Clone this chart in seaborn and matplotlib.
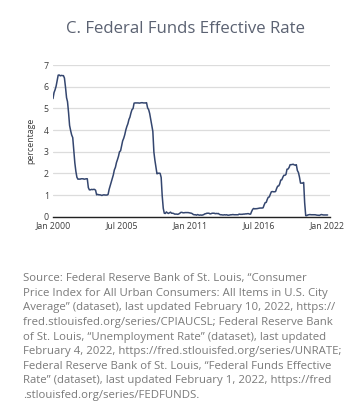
import matplotlib
matplotlib.use("Agg")
import matplotlib.pyplot as plt
import seaborn as sns
import pandas as pd

# Monthly effective federal funds rate, Jan 2000 - Jan 2022 (percent)
rate = [
    5.45, 5.73, 5.85, 6.02, 6.27, 6.53, 6.54, 6.50, 6.52, 6.51, 6.51, 6.40,
    5.98, 5.49, 5.31, 4.80, 4.21, 3.97, 3.77, 3.65, 3.07, 2.49, 2.09, 1.82,
    1.73, 1.74, 1.73, 1.75, 1.75, 1.75, 1.73, 1.74, 1.75, 1.75, 1.34, 1.24,
    1.24, 1.26, 1.25, 1.26, 1.26, 1.22, 1.01, 1.03, 1.01, 1.01, 1.00, 0.98,
    1.00, 1.01, 1.00, 1.00, 1.00, 1.03, 1.26, 1.43, 1.61, 1.76, 1.93, 2.16,
    2.28, 2.50, 2.63, 2.79, 3.00, 3.04, 3.26, 3.50, 3.62, 3.78, 4.00, 4.16,
    4.29, 4.49, 4.59, 4.79, 4.94, 4.99, 5.24, 5.25, 5.25, 5.25, 5.25, 5.24,
    5.25, 5.26, 5.26, 5.25, 5.25, 5.25, 5.26, 5.02, 4.94, 4.76, 4.49, 4.24,
    3.94, 2.98, 2.61, 2.28, 1.98, 2.00, 2.01, 2.00, 1.81, 0.97, 0.39, 0.16,
    0.15, 0.22, 0.18, 0.15, 0.18, 0.21, 0.16, 0.16, 0.15, 0.12, 0.12, 0.12,
    0.11, 0.13, 0.16, 0.20, 0.20, 0.18, 0.18, 0.19, 0.19, 0.19, 0.19, 0.18,
    0.17, 0.16, 0.14, 0.10, 0.09, 0.09, 0.07, 0.10, 0.08, 0.07, 0.08, 0.07,
    0.08, 0.10, 0.13, 0.14, 0.16, 0.16, 0.16, 0.13, 0.14, 0.16, 0.16, 0.16,
    0.14, 0.15, 0.14, 0.15, 0.11, 0.09, 0.09, 0.08, 0.08, 0.09, 0.08, 0.09,
    0.07, 0.07, 0.08, 0.09, 0.09, 0.10, 0.09, 0.09, 0.09, 0.09, 0.09, 0.12,
    0.11, 0.11, 0.11, 0.12, 0.12, 0.13, 0.13, 0.14, 0.14, 0.12, 0.12, 0.24,
    0.34, 0.38, 0.36, 0.37, 0.37, 0.38, 0.39, 0.40, 0.40, 0.40, 0.41, 0.54,
    0.65, 0.66, 0.79, 0.90, 0.91, 1.04, 1.15, 1.16, 1.15, 1.15, 1.16, 1.30,
    1.41, 1.42, 1.51, 1.69, 1.70, 1.82, 1.91, 1.91, 1.95, 2.19, 2.20, 2.27,
    2.40, 2.40, 2.41, 2.42, 2.39, 2.38, 2.40, 2.13, 2.04, 1.83, 1.55, 1.55,
    1.55, 1.58, 0.65, 0.05, 0.05, 0.08, 0.09, 0.10, 0.09, 0.09, 0.09, 0.09,
    0.09, 0.08, 0.07, 0.07, 0.06, 0.08, 0.10, 0.09, 0.08, 0.08, 0.08, 0.08,
    0.08,
]
dates = pd.date_range("2000-01-01", periods=len(rate), freq="MS")
tick_dates = ["2000-01-01", "2005-07-01", "2011-01-01", "2016-07-01", "2022-01-01"]
tick_labels = ["Jan 2000", "Jul 2005", "Jan 2011", "Jul 2016", "Jan 2022"]
y_ticks = [0, 1, 2, 3, 4, 5, 6, 7]

title = "C. Federal Funds Effective Rate"
source = ("Source: Federal Reserve Bank of St. Louis, \u201cConsumer\n"
          "Price Index for All Urban Consumers: All Items in U.S. City\n"
          "Average\u201d (dataset), last updated February 10, 2022, https://\n"
          "fred.stlouisfed.org/series/CPIAUCSL; Federal Reserve Bank\n"
          "of St. Louis, \u201cUnemployment Rate\u201d (dataset), last updated\n"
          "February 4, 2022, https://fred.stlouisfed.org/series/UNRATE;\n"
          "Federal Reserve Bank of St. Louis, \u201cFederal Funds Effective\n"
          "Rate\u201d (dataset), last updated February 1, 2022, https://fred\n"
          ".stlouisfed.org/series/FEDFUNDS.")

df = pd.DataFrame({"date": dates, "rate": rate})

sns.set_theme(style="white")
plt.rcParams["font.family"] = ["Open Sans", "DejaVu Sans"]

fig = plt.figure(figsize=(3.58, 4.13), dpi=100)
ax = fig.add_axes([0.148, 0.4753, 0.774, 0.3673])

sns.lineplot(data=df, x="date", y="rate", ax=ax, color="#34466f", linewidth=1.1)

ax.set_ylim(0, 7)
ax.set_xlim(pd.Timestamp("2000-01-01"), pd.Timestamp("2022-03-15"))
ax.set_yticks(y_ticks)
ax.set_yticklabels([str(v) for v in y_ticks])
ax.set_xticks([pd.Timestamp(d) for d in tick_dates])
ax.set_xticklabels(tick_labels)
ax.tick_params(axis="both", labelsize=6.3, colors="#3d3d3d", length=0, pad=3)
ax.grid(axis="y", color="#dcdcdc", linewidth=0.9)
ax.grid(axis="x", visible=False)
for s in ["top", "right", "left"]:
    ax.spines[s].set_visible(False)
ax.spines["bottom"].set_color("#222222")
ax.spines["bottom"].set_linewidth(1.0)
ax.set_xlabel("")
ax.set_ylabel("percentage", fontsize=6.3, color="#3d3d3d", labelpad=6)

fig.text(0.517, 0.929, title, ha="center", va="center", fontsize=12.1,
         color="#5b6272")
fig.text(0.064, 0.184, source, ha="left", va="center", fontsize=8.2,
         color="#7a7a7a", linespacing=1.45)

fig.savefig("out.png", dpi=100)
